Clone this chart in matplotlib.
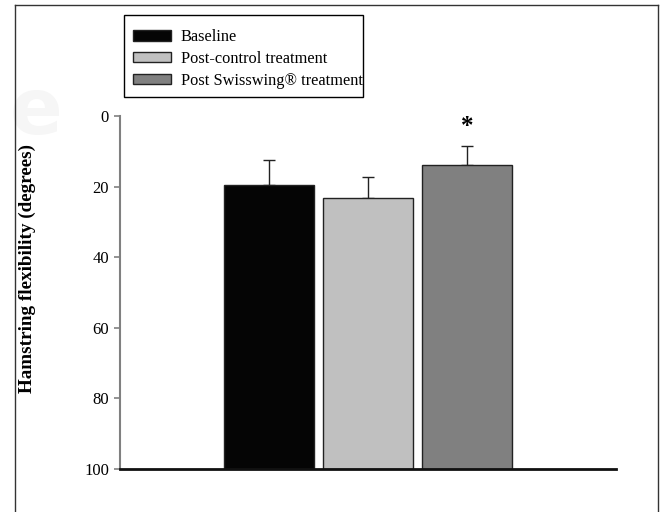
import matplotlib
matplotlib.use('Agg')
import matplotlib.pyplot as plt
from matplotlib.lines import Line2D
from matplotlib.patches import Rectangle

plt.rcParams['font.family'] = ['Liberation Serif', 'DejaVu Serif']

# Data (degrees, smaller = more flexible)
groups = ['Baseline', 'Post-control treatment', 'Post Swisswing\u00ae treatment']
means = [19.6, 23.3, 14.0]
errors = [7.2, 6.1, 5.5]
colors = ['#050505', '#c0c0c0', '#808080']
y_ticks = [0, 20, 40, 60, 80, 100]

W, H = 660, 512
fig = plt.figure(figsize=(W / 100, H / 100), dpi=100)
ax = fig.add_axes([120 / W, 1 - 469 / H, 496 / W, 353 / H])

bars = []
for i, (m, e, c) in enumerate(zip(means, errors, colors)):
    # bars grow from 100 up to the mean, axis is inverted
    b = ax.bar(i, m - 100, bottom=100, width=0.91, color=c, edgecolor='#222222',
               linewidth=1, label=groups[i], zorder=2)
    bars.append(b)
    ax.errorbar(i, m, yerr=[[e], [0]], fmt='none', ecolor='#222222',
                elinewidth=1, capsize=4, capthick=1, zorder=1)

# significance mark
ax.text(2, 3.0, '*', ha='center', va='center', fontsize=18, fontweight='bold')

ax.set_xlim(-1.5, 3.5)
ax.set_ylim(100, 0)
ax.set_yticks(y_ticks)
ax.set_xticks([])
ax.tick_params(axis='y', direction='out', length=4, width=1.2, color='#808080',
               labelsize=12, pad=4)
for s in ['top', 'right']:
    ax.spines[s].set_visible(False)
ax.spines['left'].set_color('#808080')
ax.spines['left'].set_linewidth(1.5)
ax.spines['bottom'].set_color('#111111')
ax.spines['bottom'].set_linewidth(2)

ax.set_ylabel('Hamstring flexibility (degrees)', fontsize=13.8, fontweight='bold')
ax.yaxis.set_label_coords(-0.169, 0.567)

# legend entries, with a tight box drawn around them like the original
leg = fig.legend(handles=[b[0] for b in bars], labels=groups, loc='upper left',
                 bbox_to_anchor=(133 / W, 1 - 29 / H), fontsize=11.8,
                 frameon=False, handlelength=2.3, handleheight=0.62,
                 labelspacing=0.36, borderpad=0, handletextpad=0.6,
                 borderaxespad=0)
fig.add_artist(Rectangle((124 / W, 1 - 97 / H), 239 / W, 82 / H,
                         transform=fig.transFigure, fill=False,
                         edgecolor='black', linewidth=1))

# faint watermark at the left
fig.text(36 / W, 1 - 112 / H, 'e', fontsize=56, fontweight='bold',
         color='#f6f6f6', ha='center', va='center', family='DejaVu Sans', zorder=0)

# outer frame (left, top, right)
x0, x1, y1 = 15 / W, 658 / W, 1 - 5 / H
for xs, ys in [([x0, x0], [0, y1]), ([x0, x1], [y1, y1]), ([x1, x1], [y1, 0])]:
    fig.add_artist(Line2D(xs, ys, color='#333333', linewidth=1))

fig.savefig('out.png', dpi=100)
